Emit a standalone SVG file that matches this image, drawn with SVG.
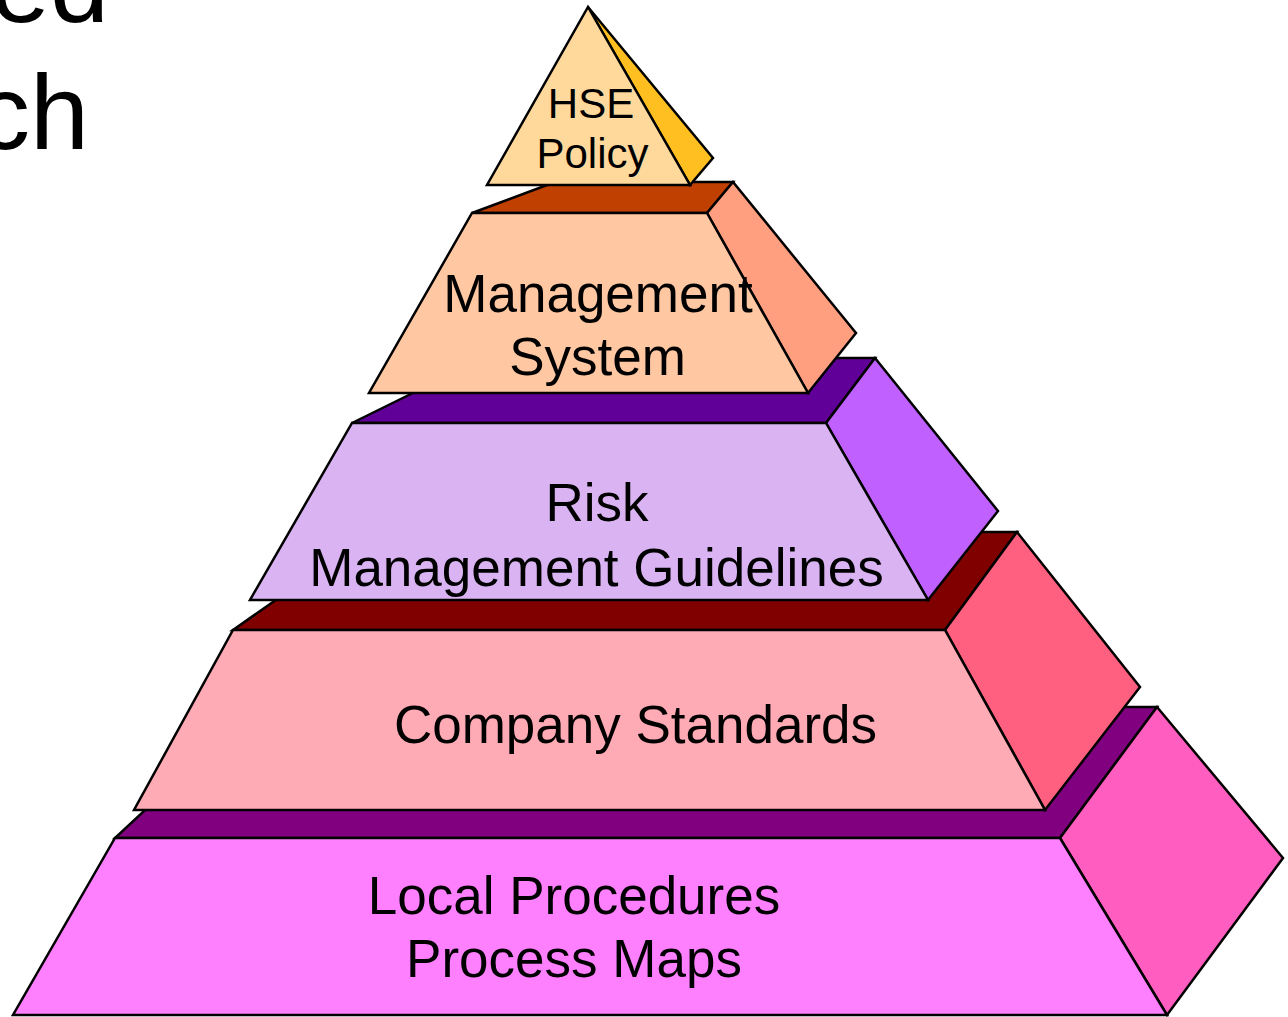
<svg xmlns="http://www.w3.org/2000/svg" width="1288" height="1017" viewBox="0 0 1288 1017">
<style>
  .f{stroke:#000;stroke-width:2.5;stroke-linejoin:miter}
  .t{font-family:"Liberation Sans",Arial,sans-serif;fill:#000;text-anchor:middle}
  .big{font-size:53px}
  .hse{font-size:42px}
</style>
<rect width="1288" height="1017" fill="#fff"/>
<g id="title-fragments">
  <text x="109" y="22" font-family="Liberation Sans, Arial, sans-serif" font-size="106" text-anchor="end">ed</text>
  <text x="89" y="149" font-family="Liberation Sans, Arial, sans-serif" font-size="106" text-anchor="end">ch</text>
</g>
<g id="local-procedures">
  <polygon class="f" fill="#800080" points="115,838 1060,838 1157,707 256,707"/>
  <polygon class="f" fill="#FF5EC0" points="1060,838 1157,707 1283,858 1167,1015"/>
  <polygon class="f" fill="#FF80FF" points="115,838 1060,838 1167,1015 13,1015"/>
  <text class="t big" x="574" y="914">Local Procedures</text>
  <text class="t big" x="574" y="977">Process Maps</text>
</g>
<g id="company-standards">
  <polygon class="f" fill="#800000" points="233,630 945,630 1017,532 373,532"/>
  <polygon class="f" fill="#FF6080" points="945,630 1017,532 1140,687 1045,810"/>
  <polygon class="f" fill="#FFABB6" points="233,630 945,630 1045,810 134,810"/>
  <text class="t big" x="635.5" y="743">Company Standards</text>
</g>
<g id="risk-management">
  <polygon class="f" fill="#600099" points="352,423 826,423 875,358 484,358"/>
  <polygon class="f" fill="#BF60FF" points="826,423 875,358 998,511 928,600"/>
  <polygon class="f" fill="#DAB4F2" points="352,423 826,423 928,600 250,600"/>
  <text class="t big" x="597" y="521">Risk</text>
  <text class="t big" x="596.5" y="586">Management Guidelines</text>
</g>
<g id="management-system">
  <polygon class="f" fill="#BF4000" points="472,213 707,213 733,182 555,182"/>
  <polygon class="f" fill="#FF9F80" points="707,213 733,182 856,333 808,393"/>
  <polygon class="f" fill="#FFC8A2" points="472,213 707,213 808,393 369,393"/>
  <text class="t big" x="598" y="312">Management</text>
  <text class="t big" x="597.5" y="375">System</text>
</g>
<g id="hse-policy">
  <polygon class="f" fill="#FFBF20" points="588,7 713,158 690,185"/>
  <polygon class="f" fill="#FFD99C" points="588,7 690,185 487,185"/>
  <text class="t hse" x="591" y="118">HSE</text>
  <text class="t hse" x="592.5" y="168">Policy</text>
</g>
</svg>
